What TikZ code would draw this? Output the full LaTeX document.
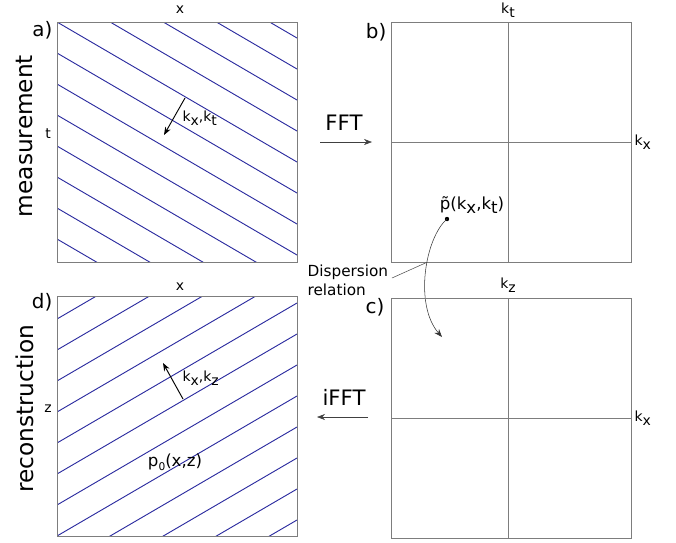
\documentclass[tikz,border=0pt]{standalone}
\usepackage{fontspec}
\setmainfont{DejaVu Sans}
\usetikzlibrary{arrows.meta}
\definecolor{framegray}{RGB}{125,125,125}
\definecolor{waveblue}{RGB}{45,45,160}
\newcommand{\lowsub}[1]{\raisebox{-0.45ex}{#1}}
\tikzset{
  panel/.style={draw=framegray,line width=0.7pt},
  axis/.style={draw=framegray,line width=0.6pt},
  wave/.style={draw=waveblue,line width=0.7pt},
  axlabel/.style={font=\fontsize{10.5}{12}\selectfont,inner sep=1pt},
  letter/.style={font=\fontsize{15}{17}\selectfont,anchor=east,inner sep=1pt},
  title/.style={font=\fontsize{17.5}{20}\selectfont,rotate=90},
  opname/.style={font=\fontsize{16}{19}\selectfont},
}
\begin{document}
\begin{tikzpicture}[>={Stealth[length=6pt,width=4.5pt]},x=0.02646cm,y=-0.02646cm]
    \useasboundingbox (0,0) rectangle (676,542);

    % a) measurement
    \begin{scope}
        \clip (57,22) rectangle (297,262);
        \foreach \k in {-5,...,8}
            \draw[wave] (57,22+31*\k) -- ++(240,140);
    \end{scope}
    \draw[panel] (57,22) rectangle (297,262);
    \node[axlabel] (a-x) at (180,10) {x};
    \node[axlabel] (a-t) at (48,134) {t};
    \node[letter] (a-letter) at (54,30) {a)};
    \node[title] (meas) at (25,136) {measurement};
    \coordinate (ka-tail) at (185,98);
    \coordinate (ka-head) at (164,135);
    \draw[->,line width=0.7pt] (ka-tail) -- (ka-head);
    \node[axlabel,anchor=west] (ka-label) at (181,118) {k\lowsub{x},k\lowsub{t}};

    % b) spectrum k_x,k_t
    \draw[panel] (391,22) rectangle (631,262);
    \draw[axis] (508,22) -- (508,262);
    \draw[axis] (391,142) -- (631,142);
    \node[axlabel] (b-kt) at (508,10) {k\lowsub{t}};
    \node[axlabel,anchor=west] (b-kx) at (633,142) {k\lowsub{x}};
    \node[letter] (b-letter) at (388,32) {b)};
    \fill (447,219) circle (2.2) coordinate (pdot);
    \node[font=\fontsize{12.5}{15}\selectfont,inner sep=1pt] (ptilde) at (472,205)
        {\~{p}(k\lowsub{x},k\lowsub{t})};

    % FFT
    \node[opname] (fft) at (344,123) {FFT};
    \coordinate (fft-from) at (320,142);
    \coordinate (fft-to) at (372,142);
    \draw[->,draw=black!75] (fft-from) -- (fft-to);

    % dispersion relation
    \coordinate (pmapped) at (442,337);
    \draw[->,draw=black!80] (pdot) .. controls (425,238) and (414,305) .. (pmapped)
        coordinate[pos=0.42] (disp-pt);
    \node[font=\fontsize{11.5}{14}\selectfont,align=left,anchor=west,inner sep=1pt]
        (disp) at (306,280) {Dispersion\\relation};
    \draw[draw=black!70] (392,278) -- (disp-pt);

    % c) spectrum k_x,k_z
    \draw[panel] (391,298) rectangle (631,538);
    \draw[axis] (508,298) -- (508,538);
    \draw[axis] (391,418) -- (631,418);
    \node[axlabel] (c-kz) at (508,285) {k\lowsub{z}};
    \node[axlabel,anchor=west] (c-kx) at (633,418) {k\lowsub{x}};
    \node[letter] (c-letter) at (386,307) {c)};

    % iFFT
    \node[opname] (ifft) at (344,397) {iFFT};
    \coordinate (ifft-from) at (368,417);
    \coordinate (ifft-to) at (317,417);
    \draw[->,draw=black!75] (ifft-from) -- (ifft-to);

    % d) reconstruction
    \begin{scope}
        \clip (57,296) rectangle (297,536);
        \foreach \k in {-5,...,8}
            \draw[wave] (57,536-31*\k) -- ++(240,-140);
    \end{scope}
    \draw[panel] (57,296) rectangle (297,536);
    \node[axlabel] (d-x) at (180,287) {x};
    \node[axlabel] (d-z) at (48,409) {z};
    \node[letter] (d-letter) at (54,302) {d)};
    \node[title] (recon) at (25,409) {reconstruction};
    \coordinate (kd-tail) at (183,399);
    \coordinate (kd-head) at (163,363);
    \draw[->,line width=0.7pt] (kd-tail) -- (kd-head);
    \node[axlabel,anchor=west] (kd-label) at (181,378) {k\lowsub{x},k\lowsub{z}};
    \node[font=\fontsize{12.5}{15}\selectfont,inner sep=1pt] (p0) at (175,462)
        {p\lowsub{\footnotesize 0}(x,z)};
\end{tikzpicture}
\end{document}
